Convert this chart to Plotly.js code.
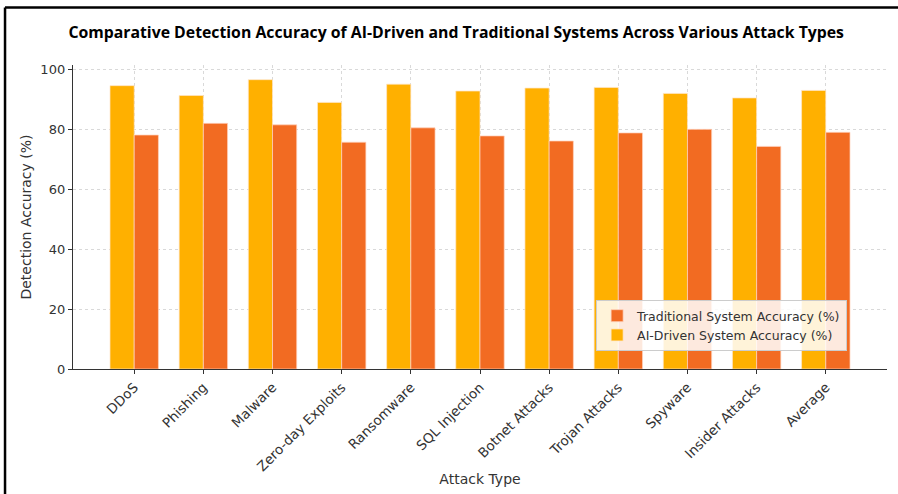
<!DOCTYPE html>
<html>
<head>
<meta charset="utf-8">
<script src="https://cdn.plot.ly/plotly-3.0.1.min.js"></script>
<style>html,body{margin:0;padding:0;background:#fff;}#chart{width:898px;height:494px;}</style>
</head>
<body>
<div id="chart"></div>
<script>
const categories = ["DDoS", "Phishing", "Malware", "Zero-day Exploits", "Ransomware", "SQL Injection", "Botnet Attacks", "Trojan Attacks", "Spyware", "Insider Attacks", "Average"];
const aiAccuracy = [94.7, 91.4, 96.7, 89.1, 95.2, 92.9, 93.9, 94.1, 92.1, 90.6, 93.1];
const traditionalAccuracy = [78.2, 82.1, 81.6, 75.8, 80.6, 77.9, 76.2, 78.9, 80.1, 74.4, 79.1];
const yTicks = [0, 20, 40, 60, 80, 100];

const axisFont = {family: "DejaVu Sans", size: 13.5, color: "#333"};

const traces = [
  {
    type: "bar", name: "AI-Driven System Accuracy (%)",
    x: categories, y: aiAccuracy,
    marker: {color: "#FFB000", line: {color: "rgba(255,230,200,0.9)", width: 0.8}},
    hoverinfo: "x+y"
  },
  {
    type: "bar", name: "Traditional System Accuracy (%)",
    x: categories, y: traditionalAccuracy,
    marker: {color: "#F26B22", line: {color: "rgba(255,210,190,0.9)", width: 0.8}},
    hoverinfo: "x+y"
  }
];

const layout = {
  width: 898, height: 494,
  margin: {l: 73, r: 11, t: 64.5, b: 125},
  paper_bgcolor: "#fff", plot_bgcolor: "#fff",
  barmode: "group", bargap: 0.3, bargroupgap: 0,
  title: {
    text: "<b>Comparative Detection Accuracy of AI-Driven and Traditional Systems Across Various Attack Types</b>",
    font: {family: "Open Sans", size: 15.8, color: "#000"},
    x: 0.508, xanchor: "center", y: 0.935, yanchor: "middle"
  },
  xaxis: {
    type: "category", range: [-0.885, 10.885],
    tickangle: -45, tickfont: axisFont,
    ticks: "outside", ticklen: 4, tickcolor: "#333",
    showgrid: true, gridcolor: "#d9d9d9", griddash: "dot", gridwidth: 1,
    showline: true, linecolor: "#333", linewidth: 1.2,
    title: {text: "Attack Type", font: {family: "DejaVu Sans", size: 14, color: "#333"}, standoff: 0},
    zeroline: false
  },
  yaxis: {
    range: [0, 101.6], tickvals: yTicks, tickfont: {family: "DejaVu Sans", size: 13, color: "#333"},
    ticks: "outside", ticklen: 4, tickcolor: "#333",
    showgrid: true, gridcolor: "#d9d9d9", griddash: "dot", gridwidth: 1,
    showline: true, linecolor: "#333", linewidth: 1.2,
    zeroline: false,
    title: {text: "Detection Accuracy (%)", font: {family: "DejaVu Sans", size: 14, color: "#333"}, standoff: 5}
  },
  legend: {
    x: 0.951, xanchor: "right", y: 0.059, yanchor: "bottom",
    traceorder: "reversed",
    bgcolor: "rgba(255,255,255,0.85)", bordercolor: "#cccccc", borderwidth: 1,
    font: {family: "DejaVu Sans", size: 12.5, color: "#333"},
    itemwidth: 30, tracegroupgap: 0
  },
  shapes: [
    {type: "line", xref: "paper", yref: "paper", x0: -0.0835, x1: -0.0835, y0: 1.1888, y1: -0.42, line: {color: "#000", width: 2.5}},
    {type: "line", xref: "paper", yref: "paper", x0: -0.0835, x1: 1.02, y0: 1.1888, y1: 1.1888, line: {color: "#000", width: 2.5}}
  ]
};

Plotly.newPlot("chart", traces, layout, {displayModeBar: false, staticPlot: true});
</script>
</body>
</html>
